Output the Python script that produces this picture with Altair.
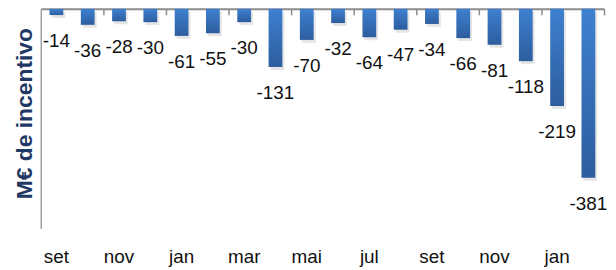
import json
import altair as alt
import pandas as pd

meses = ["set", "out", "nov", "dez", "jan", "fev", "mar", "abr", "mai",
         "jun", "jul", "ago", "set", "out", "nov", "dez", "jan", "fev"]
valores = [-14, -36, -28, -30, -61, -55, -30, -131, -70,
           -32, -64, -47, -34, -66, -81, -118, -219, -381]

df = pd.DataFrame({
    "i": list(range(len(meses))),
    "mes": meses,
    "valor": valores,
    "rotulo": [str(v) for v in valores],
})

label_expr = json.dumps(meses) + "[datum.value]"
even_idx = [i for i in range(len(meses)) if i % 2 == 0]
odd_idx = [i for i in range(len(meses)) if i % 2 == 1]

xscale = alt.Scale(paddingInner=0, paddingOuter=0)

yaxis = alt.Axis(
    title="M€ de incentivo", labels=False, ticks=False, grid=False,
    domain=True, domainColor="#a0a0a0", domainWidth=1.5,
    titleFont="Liberation Sans", titleFontSize=23, titleFontWeight="bold",
    titleColor="#1f3864", titleX=-16, titleY=105, titleAngle=270,
    titleBaseline="middle", titleAlign="center",
)
y = alt.Y("valor:Q", scale=alt.Scale(domain=[-495, 0]), axis=yaxis)

tick_axis = alt.Axis(
    orient="bottom", offset=-221, labels=False, title=None,
    values=odd_idx, bandPosition=1, ticks=True, tickSize=6,
    tickColor="#8c8c8c", tickWidth=1.5, domain=True,
    domainColor="#8c8c8c", domainWidth=2, grid=False,
)
label_axis = alt.Axis(
    orient="bottom", title=None, domain=False, ticks=False, grid=False,
    values=even_idx, labelExpr=label_expr, labelAngle=0,
    labelFont="Liberation Sans", labelFontSize=19, labelColor="#111111",
    labelPadding=19,
)

base = alt.Chart(df)

shadow = base.mark_bar(
    color="#000000", opacity=0.10, width=alt.RelativeBandSize(0.44),
    xOffset=2, yOffset=3,
).encode(x=alt.X("i:O", scale=xscale, axis=None), y=y)

bars = base.mark_bar(
    width=alt.RelativeBandSize(0.44),
    color=alt.Gradient(
        gradient="linear",
        stops=[alt.GradientStop(color="#3e80d0", offset=0),
               alt.GradientStop(color="#2d5d9e", offset=1)],
        x1=0, x2=0, y1=0, y2=1,
    ),
).encode(x=alt.X("i:O", scale=xscale, axis=tick_axis), y=y)

text = base.mark_text(
    dy=26, baseline="middle", align="center", font="Liberation Sans",
    fontSize=19, color="#111111",
).encode(x=alt.X("i:O", scale=xscale, axis=label_axis), y=y,
         text=alt.Text("rotulo:N"))

chart = alt.layer(shadow, bars, text).resolve_axis(x="independent").properties(
    width=567, height=221,
    autosize=alt.AutoSizeParams(type="none"),
    padding={"left": 33, "top": 0, "right": 4, "bottom": 38},
).configure_view(stroke=None)

chart.save("out.html", embed_options={"renderer": "svg", "actions": False})
